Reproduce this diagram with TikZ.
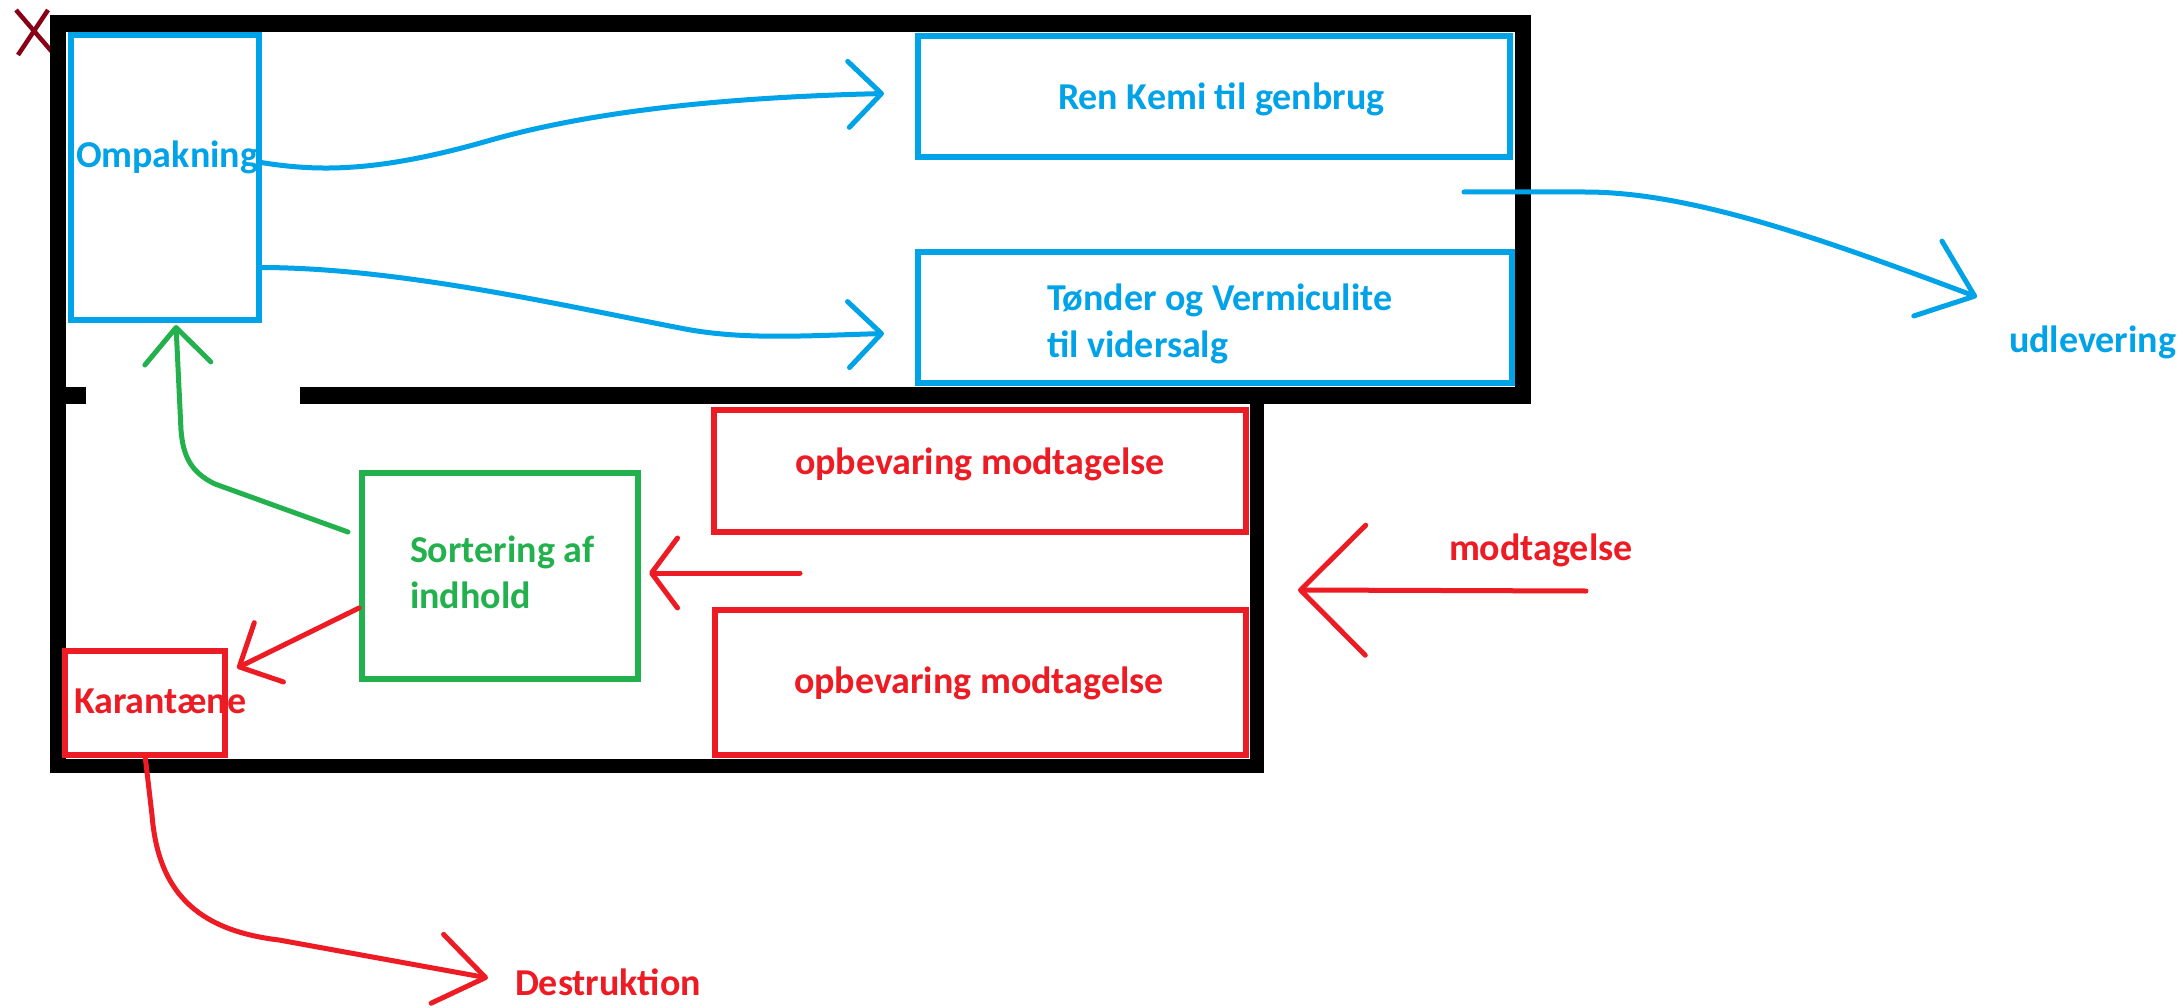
\documentclass[tikz,border=0pt]{standalone}
\usepackage{fontspec}
\setmainfont{Carlito}
\usetikzlibrary{arrows.meta,calc}
\definecolor{pblue}{RGB}{0,162,232}
\definecolor{pred}{RGB}{237,28,36}
\definecolor{pgreen}{RGB}{34,177,76}
\definecolor{pdark}{RGB}{136,0,21}
\tikzset{
  wall/.style={fill=black},
  box/.style={draw=#1, line width=5.5pt, rectangle, inner sep=0pt, outer sep=0pt},
  lbl/.style={text=#1, inner sep=0pt, outer sep=0pt, anchor=base west,
              font=\bfseries\fontsize{38}{47}\selectfont},
  flow/.style={draw=#1, line width=5pt, line cap=round, line join=round},
  tipS/.style={-{Straight Barb[length=33pt,width=66pt,round]}},
  tipL/.style={-{Straight Barb[length=65pt,width=130pt,round]}},
  tipM/.style={-{Straight Barb[length=50pt,width=80pt,round]}},
  xmark/.style={draw=pdark, line width=4.5pt}
}
\begin{document}
\begin{tikzpicture}[x=1pt,y=-1pt]
\useasboundingbox[fill=white] (0,0) rectangle (2183,1008);

% X mark
\draw[xmark] (16,10) -- (53,53);
\draw[xmark] (48,10) -- (18,55);

% walls
\fill[wall] (50,15) rectangle (1531,32);
\fill[wall] (50,15) rectangle (66,773);
\fill[wall] (1515,15) rectangle (1531,404);
\fill[wall] (50,387) rectangle (86,404);
\fill[wall] (300,387) rectangle (1531,404);
\fill[wall] (1250,387) rectangle (1264,773);
\fill[wall] (50,759) rectangle (1264,773);

% labels drawn under boxes
\node[lbl=pblue] (ompaklbl) at (76,168) {Ompakning};
\node[lbl=pred] (karlbl) at (74,713) {Karantæne};

% boxes
\node[box=pblue, minimum width=188pt, minimum height=285pt] (ompak) at (165,177.5) {};
\node[box=pblue, minimum width=592pt, minimum height=121pt] (renkemi) at (1214,96.5) {};
\node[box=pblue, minimum width=594pt, minimum height=131pt] (tonder) at (1215,317.5) {};
\node[box=pgreen, minimum width=276pt, minimum height=206pt] (sort) at (500,576) {};
\node[box=pred, minimum width=160pt, minimum height=104pt] (kar) at (145,703) {};
\node[box=pred, minimum width=532pt, minimum height=122pt] (opb1) at (980,471) {};
\node[box=pred, minimum width=531pt, minimum height=145pt] (opb2) at (980.5,682.5) {};

% texts
\node[lbl=pblue] (renlbl) at (1058,110) {Ren Kemi til genbrug};
\node[lbl=pblue] (tonlbl) at (1047,310) {\begin{tabular}[t]{@{}l@{}}Tønder og Vermiculite\\til vidersalg\end{tabular}};
\node[lbl=pgreen, font=\bfseries\fontsize{38}{46}\selectfont] (sortlbl) at (410,562) {\begin{tabular}[t]{@{}l@{}}Sortering af\\indhold\end{tabular}};
\node[lbl=pred] (opb1lbl) at (795,474) {opbevaring modtagelse};
\node[lbl=pred] (opb2lbl) at (794,693) {opbevaring modtagelse};
\node[lbl=pred] (modlbl) at (1449,560) {modtagelse};
\node[lbl=pblue] (udlbl) at (2009,352) {udlevering};
\node[lbl=pred] (destlbl) at (515,995) {Destruktion};

% free ends
\coordinate (udtip) at (1977,297);
\coordinate (modtail) at (1586,591);
\coordinate (modtip) at (1298,590);
\coordinate (midtail) at (800,573);
\coordinate (destip) at (488,978);

% connectors
\draw[flow=pblue, tipS] ($(ompak.east)+(2,-15)$)
  .. controls (320,172) and (380,172) .. (491,140)
  .. controls (580,115) and (700,98) .. ($(renkemi.west)+(-34,-3)$);
\draw[flow=pblue, tipS] ($(ompak.east)+(3,90)$)
  .. controls (400,268) and (560,305) .. (680,328)
  .. controls (740,340) and (800,336) .. ($(tonder.west)+(-34,16)$);
\draw[flow=pblue, tipM] ($(renkemi.south east)+(-46,35)$) -- (1585,192)
  .. controls (1690,192) and (1820,238) .. (udtip);
\draw[flow=pred, tipL] (modtail) -- (modtip);
\draw[flow=pred, -{Straight Barb[length=26pt,width=70pt,round]}] (midtail) -- ($(sort.east)+(11,-3)$);
\draw[flow=pred, tipS] ($(sort.west)+(-3,32)$) -- ($(kar.north east)+(12,17)$);
\draw[flow=pgreen, -{Straight Barb[length=36pt,width=66pt,round]}] ($(sort.west)+(-14,-44)$) -- (215,484)
  .. controls (190,472) and (183,455) .. (181,430) -- ($(ompak.south)+(11,5)$);
\draw[flow=pred, -{Straight Barb[length=49pt,width=70pt,round]}] (kar.south) -- (152,815)
  .. controls (158,890) and (195,930) .. (279,940) -- (destip);
\end{tikzpicture}
\end{document}
